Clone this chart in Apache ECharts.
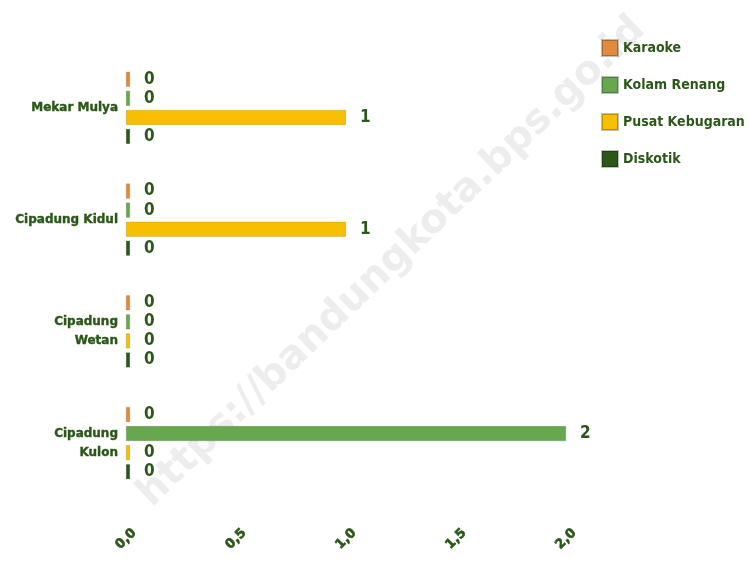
<!DOCTYPE html>
<html>
<head>
<meta charset="utf-8">
<script src="https://cdn.jsdelivr.net/npm/echarts@6/dist/echarts.min.js"></script>
<style>
  html, body { margin: 0; padding: 0; background: #fff; }
  #chart { width: 749px; height: 561px; }
</style>
</head>
<body>
<div id="chart"></div>
<script>
// categories top to bottom
const kelurahan = ['Mekar Mulya', 'Cipadung Kidul', 'Cipadung\nWetan', 'Cipadung\nKulon'];
const karaoke = [0, 0, 0, 0];
const kolamRenang = [0, 0, 0, 2];
const pusatKebugaran = [1, 1, 0, 0];
const diskotik = [0, 0, 0, 0];
const xTicks = [0, 0.5, 1, 1.5, 2];

const seriesDefs = [
  { name: 'Karaoke', data: karaoke, color: '#e38b3d' },
  { name: 'Kolam Renang', data: kolamRenang, color: '#67a84f' },
  { name: 'Pusat Kebugaran', data: pusatKebugaran, color: '#f8bf00' },
  { name: 'Diskotik', data: diskotik, color: '#2b5718' }
];

const darkGreen = '#2b5718';
const narrow = '"Liberation Sans Narrow", "DejaVu Sans Condensed", sans-serif';
const chart = echarts.init(document.getElementById('chart'));

let option = {
  animation: false,
  legend: {
    orient: 'vertical',
    left: 596,
    top: 34,
    itemWidth: 16,
    itemHeight: 16,
    itemGap: 19,
    icon: 'rect',
    textStyle: {
      fontFamily: narrow,
      fontWeight: 'bold',
      fontSize: 14,
      color: darkGreen
    }
  },
  grid: { left: 126, right: 183, top: 52, bottom: 62 },
  xAxis: {
    type: 'value',
    min: xTicks[0],
    max: xTicks[xTicks.length - 1],
    interval: 0.5,
    splitLine: { show: false },
    axisLine: { show: false },
    axisTick: { show: false },
    axisLabel: {
      rotate: 45,
      margin: 40,
      align: 'center',
      verticalAlign: 'middle',
      fontFamily: 'DejaVu Sans',
      fontWeight: 'bold',
      fontSize: 13,
      color: darkGreen,
      textBorderColor: darkGreen,
      textBorderWidth: 0.6,
      formatter: v => v.toFixed(1).replace('.', ',')
    }
  },
  yAxis: {
    type: 'category',
    inverse: true,
    data: kelurahan,
    axisLine: { show: false },
    axisTick: { show: false },
    axisLabel: {
      margin: 8,
      fontFamily: 'DejaVu Sans',
      fontWeight: 'bold',
      fontSize: 12,
      lineHeight: 19,
      color: darkGreen,
      textBorderColor: darkGreen,
      textBorderWidth: 0.4
    }
  },
  graphic: [{
    type: 'text',
    z: -1,
    x: 392,
    y: 262,
    rotation: Math.PI / 4.1,
    style: {
      text: 'https://bandungkota.bps.go.id',
      align: 'center',
      verticalAlign: 'middle',
      font: 'bold 40px "DejaVu Sans"',
      fill: 'rgba(200,200,200,0.32)'
    }
  }],
  series: seriesDefs.map(s => ({
    type: 'bar',
    name: s.name,
    data: s.data,
    barWidth: 15,
    barGap: '27%',
    barMinHeight: 4,
    itemStyle: { color: s.color, borderColor: 'rgba(0,0,0,0.25)', borderWidth: 0.5 },
    label: {
      show: true,
      position: 'right',
      distance: 14,
      fontFamily: narrow,
      fontWeight: 'bold',
      fontSize: 17,
      color: darkGreen,
      textBorderColor: '#fff',
      textBorderWidth: 2
    }
  }))
};
option && chart.setOption(option);
</script>
</body>
</html>
